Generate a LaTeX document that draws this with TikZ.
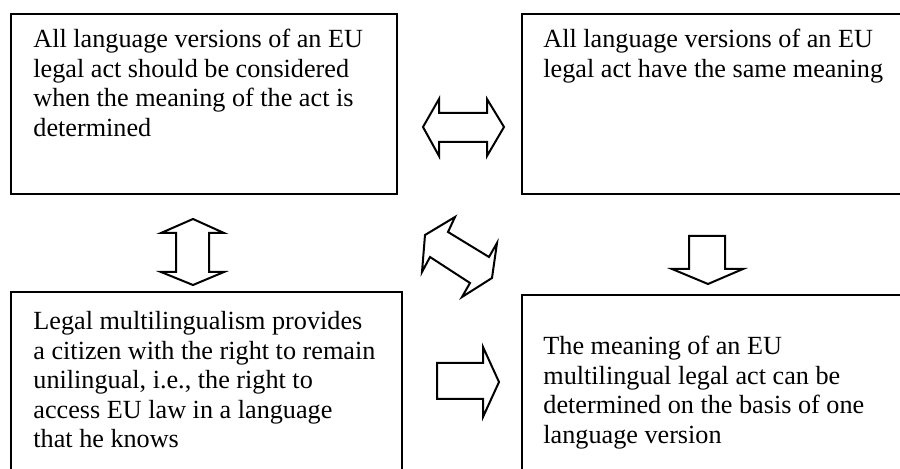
\documentclass[tikz,border=0pt]{standalone}
\usepackage{fontspec}
\setmainfont{Liberation Serif}
\begin{document}
\begin{tikzpicture}[x=0.5pt,y=-0.5pt,
  box/.style={draw, line width=1pt, inner sep=0pt, anchor=north west},
  txt/.style={inner sep=0pt, anchor=north west, align=left,
    font=\fontsize{13.1}{14.75}\selectfont},
  blockarrow/.style={draw, line width=1pt, line join=miter, fill=white}]
\useasboundingbox (0,0) rectangle (900,469);
\clip (0,0) rectangle (900,469);
% boxes
\node[box, minimum width=193pt, minimum height=90pt] (tl) at (10,13) {};
\node[box, minimum width=195pt, minimum height=90pt] (tr) at (521,13) {};
\node[box, minimum width=195.5pt, minimum height=95pt] (bl) at (10,291) {};
\node[box, minimum width=195pt, minimum height=93pt] (br) at (521,294) {};
% texts
\node[txt] (tltext) at (33,29) {All language versions of an EU\\legal act should be considered\\when the meaning of the act is\\determined};
\node[txt] (trtext) at (543,29) {All language versions of an EU\\legal act have the same meaning};
\node[txt] (bltext) at (33,311) {Legal multilingualism provides\\a citizen with the right to remain\\unilingual, i.e., the right to\\access EU law in a language\\that he knows};
\node[txt] (brtext) at (543,336) {The meaning of an EU\\multilingual legal act can be\\determined on the basis of one\\language version};
% block arrows
\draw[blockarrow] (423,127) -- (439,99) -- (439,113) -- (487,113) -- (487,99) -- (504,127)
  -- (487,156) -- (487,142) -- (439,142) -- (439,156) -- cycle;
\draw[blockarrow] (193,219) -- (224,233) -- (209,233) -- (209,272) -- (224,272) -- (193,285)
  -- (161,272) -- (176,272) -- (176,233) -- (161,233) -- cycle;
\draw[blockarrow] (689,236) -- (725,236) -- (725,269) -- (743,269) -- (708,284)
  -- (672,269) -- (689,269) -- cycle;
\draw[blockarrow] (437,363) -- (483,363) -- (483,347) -- (499,382) -- (483,417)
  -- (483,399) -- (437,399) -- cycle;
\draw[blockarrow] (425,235) -- (455,217) -- (448,232) -- (489,257) -- (497,243) -- (492,278)
  -- (462,297) -- (470,283) -- (430,257) -- (422,272) -- cycle;
\end{tikzpicture}
\end{document}
